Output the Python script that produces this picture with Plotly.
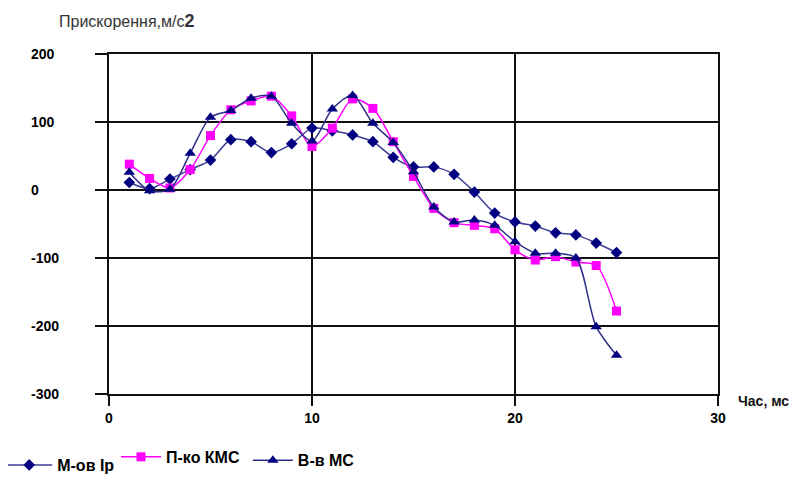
import plotly.graph_objects as go

time_ms = list(range(1, 26))
m_ov_ir = [11, 2, 16, 30, 44, 74, 71, 55, 68, 91, 87, 81, 71, 48, 34, 34, 23, -3, -34, -47, -53, -63, -66, -78, -92]
p_ko_kms = [38, 17, 3, 30, 80, 118, 131, 138, 109, 64, 91, 134, 120, 71, 20, -27, -48, -52, -57, -88, -103, -98, -106, -111, -178]
v_v_ms = [26, -1, 1, 54, 107, 117, 135, 138, 98, 72, 119, 139, 98, 70, 27, -25, -47, -44, -52, -76, -93, -93, -100, -201, -243]

y_ticks = [200, 100, 0, -100, -200, -300]
x_ticks = [0, 10, 20, 30]

series_names = ["М-ов Ір", "П-ко КМС", "В-в МС"]

FONT = "Liberation Sans Narrow, Arial Narrow, Liberation Sans, Arial, sans-serif"

fig = go.Figure()
fig.add_trace(go.Scatter(
    x=time_ms, y=m_ov_ir, name=series_names[0], mode="lines+markers", legend="legend",
    line=dict(color="#3c3c94", width=1.5, shape="spline", smoothing=0.8),
    marker=dict(symbol="diamond", size=9, color="#000080", line=dict(width=0)),
))
fig.add_trace(go.Scatter(
    x=time_ms, y=p_ko_kms, name=series_names[1], mode="lines+markers", legend="legend2",
    line=dict(color="#ff00ff", width=1.5, shape="spline", smoothing=0.8),
    marker=dict(symbol="square", size=9, color="#ff00ff", line=dict(width=0)),
))
fig.add_trace(go.Scatter(
    x=time_ms, y=v_v_ms, name=series_names[2], mode="lines+markers", legend="legend3",
    line=dict(color="#2e2e8a", width=1.5, shape="spline", smoothing=0.8),
    marker=dict(symbol="triangle-up", size=10, color="#000080", line=dict(width=0)),
))

annotations = []
for v in y_ticks:
    annotations.append(dict(
        x=-0.131, xref="paper", y=v, yref="y", text=str(v), showarrow=False,
        xanchor="left", yanchor="middle",
        font=dict(family=FONT, size=14, color="#000000", weight="bold"),
    ))
annotations.append(dict(
    x=-0.086, xref="paper", y=1.098, yref="paper",
    text="Прискорення,м/с<b><span style='font-size:18px'>2</span></b>",
    showarrow=False, xanchor="left", yanchor="middle",
    font=dict(family=FONT, size=16, color="#333333"),
))
annotations.append(dict(
    x=1.03, xref="paper", y=-0.02, yref="paper", text="Час, мс",
    showarrow=False, xanchor="left", yanchor="middle",
    font=dict(family=FONT, size=14, color="#111111", weight="bold"),
))

legend_common = dict(
    orientation="h", xanchor="left", yanchor="middle",
    font=dict(family=FONT, size=16, color="#000000", weight="bold"),
    bgcolor="rgba(0,0,0,0)",
)

fig.update_layout(
    width=792, height=480,
    margin=dict(l=101, r=82, t=46, b=94, autoexpand=False),
    paper_bgcolor="white", plot_bgcolor="white",
    font=dict(family=FONT, color="#111111"),
    showlegend=True,
    legend=dict(x=-0.177, y=-0.209, itemwidth=46, **legend_common),
    legend2=dict(x=0.0115, y=-0.185, itemwidth=40, **legend_common),
    legend3=dict(x=0.228, y=-0.195, itemwidth=40, **legend_common),
    annotations=annotations,
)
fig.update_xaxes(
    range=[0, 30], tickvals=x_ticks, ticktext=[str(t) for t in x_ticks],
    showgrid=True, gridcolor="#111111", gridwidth=1.5,
    showline=True, linecolor="#111111", linewidth=2, mirror=True,
    ticks="outside", ticklen=10, tickcolor="#111111", tickwidth=1.5,
    tickfont=dict(family=FONT, size=14, color="#000000", weight="bold"),
    zeroline=False,
)
fig.update_yaxes(
    range=[-300, 200], tickvals=y_ticks, showticklabels=False,
    showgrid=True, gridcolor="#111111", gridwidth=1.5,
    showline=True, linecolor="#111111", linewidth=2, mirror=True,
    ticks="outside", ticklen=12, tickcolor="#111111", tickwidth=1.5,
    zeroline=False,
)

fig.write_html("out.html")
